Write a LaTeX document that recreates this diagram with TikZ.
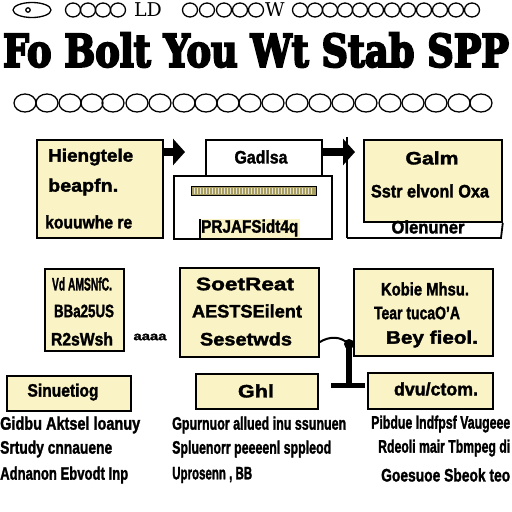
\documentclass[tikz,border=0pt]{standalone}
\usepackage{fontspec}
\setmainfont{Liberation Sans}[BoldFeatures={FakeBold=1.8}]
\newfontfamily\titlefont{DejaVu Serif}[BoldFeatures={FakeBold=5}]
\usetikzlibrary{arrows.meta}
\definecolor{boxyellow}{RGB}{250,243,198}
\definecolor{khaki}{RGB}{168,158,98}
\newcommand\wfit[2]{\resizebox{#1}{\height}{#2}}
\begin{document}
\begin{tikzpicture}[x=1pt,y=-1pt,
  ybox/.style={draw=black, line width=1.8pt, fill=boxyellow, inner sep=0pt, anchor=north west},
  wbox/.style={draw=black, line width=1.8pt, fill=white, inner sep=0pt, anchor=north west},
  tl/.style={font=\bfseries\fontsize{18}{19}\selectfont, inner sep=0pt, anchor=west},
  tc/.style={font=\bfseries\fontsize{18}{19}\selectfont, inner sep=0pt},
  ring/.style={draw=black, line width=1.3pt},
  bigarrow/.style={line width=8pt, -{Triangle[length=12pt,width=26pt]}}]
\useasboundingbox[fill=white] (0,0) rectangle (512,512);

% top ring row
\draw[ring] (32,10) ellipse (19 and 7.5);
\draw[ring] (28,10) circle (2.2);
\foreach \x in {73,88,103,118,190,207,224,240,256,300,315,330,345,360,376,392,408,424,440,456,472}
  \draw[ring] (\x,10) ellipse (7.5 and 7);
\node[font=\titlefont\fontsize{19}{19}\selectfont, inner sep=0pt] (ld) at (148,10) {LD};
\node[font=\titlefont\fontsize{19}{19}\selectfont, inner sep=0pt] (ww) at (275,10) {W};

% title
\node[inner sep=0pt] (title) at (256,50) {\resizebox{506pt}{34pt}{\titlefont\bfseries Fo Bolt You Wt Stab SPP}};

% bottom ring row
\foreach \x in {25,47,70,92,113,137,160,184,206,228,250,273,297,320,343,366,390,413,436,459,481}
  \draw[ring] (\x,103) ellipse (11 and 9);

% row 1
\node[ybox, minimum width=126pt, minimum height=98pt] (A) at (36,139) {};
\node[tl] (a1) at (48,157) {\wfit{85pt}{Hiengtele}};
\node[tl] (a2) at (48,187) {\wfit{70pt}{beapfn.}};
\node[tl] (a3) at (45,222) {\wfit{87pt}{kouuwhe re}};

\node[wbox, minimum width=158pt, minimum height=63pt] (C) at (173,175) {};
\node[wbox, minimum width=116pt, minimum height=36pt] (B) at (205,139) {};
\node[tc] (b1) at (261,157) {\wfit{53pt}{Gadlsa}};
\node[draw=black, line width=1pt, fill=khaki, minimum width=125pt, minimum height=9pt, inner sep=0pt, anchor=north west] (bar) at (191,186) {};
\foreach \x in {194,197,...,312}
  \draw[white!70!khaki, line width=1pt] (\x,188) -- (\x,194);
\node[fill=boxyellow, minimum width=100pt, minimum height=19pt, inner sep=0pt, anchor=north west] (cb) at (200,219) {};
\draw[line width=1.5pt] (cb.north west) -- (cb.south west);
\node[tl] (c1) at (201,228) {\wfit{97pt}{PRJAFSidt4q}};

\coordinate (aEnd) at (185,152);
\draw[bigarrow] (A.east |- aEnd) -- (aEnd);
\coordinate (vTop) at (347,137);
\coordinate (vBot) at (347,238);
\coordinate (bEnd) at (355,152);
\draw[line width=2pt] (vTop) -- (vBot);
\draw[bigarrow] (B.east |- bEnd) -- (bEnd);

\node[ybox, minimum width=138pt, minimum height=82pt] (D) at (363,139) {};
\coordinate (fBR) at (501,238);
\draw[line width=1.8pt] (vBot) -- (fBR) -- (D.south east);
\node[tc] (d1) at (432,158) {\wfit{53pt}{Galm}};
\node[tc] (d2) at (430,191) {\wfit{118pt}{Sstr elvonl Oxa}};
\node[tc] (d3) at (428,227) {\wfit{73pt}{Olenuner}};

% row 2
\node[ybox, minimum width=79pt, minimum height=82pt] (E) at (44,268) {};
\node[tc] (e1) at (82,284) {\wfit{60pt}{Vd AMSNfC.}};
\node[tc] (e2) at (84,311) {\wfit{60pt}{BBa25US}};
\node[tc] (e3) at (82,339) {\wfit{62pt}{R2sWsh}};
\node[tc, font=\bfseries\fontsize{12}{12}\selectfont] (dots) at (150,337) {\wfit{33pt}{aaaa}};

\node[ybox, minimum width=139pt, minimum height=89pt] (F) at (179,267) {};
\node[tc] (f1) at (245,284) {\wfit{98pt}{SoetReat}};
\node[tc] (f2) at (247,311) {\wfit{110pt}{AESTSEilent}};
\node[tc] (f3) at (246,339) {\wfit{92pt}{Sesetwds}};

\node[ybox, minimum width=139pt, minimum height=87pt] (G) at (353,268) {};
\node[tc] (g1) at (425,289) {\wfit{88pt}{Kobie Mhsu.}};
\node[tc] (g2) at (417,313) {\wfit{86pt}{Tear tucaO'A}};
\node[tc] (g3) at (432,339) {\wfit{92pt}{Bey fieol.}};

\coordinate (jn) at (349,344);
\coordinate (tee) at (349,385);
\coordinate (teeL) at (331,385);
\coordinate (teeR) at (365,385);
\draw[line width=2pt] (F.east |- 0,342) .. controls (330,336) and (340,336) .. (jn) -- (G.west |- jn);
\fill (jn) circle (5);
\draw[line width=6pt] (jn) -- (tee);
\draw[line width=5pt] (teeL) -- (teeR);

% row 3
\node[ybox, minimum width=124pt, minimum height=35pt] (H) at (6,375) {};
\node[tc] (h1) at (63,392) {\wfit{71pt}{Sinuetiog}};
\node[ybox, minimum width=122pt, minimum height=35pt] (I) at (195,373) {};
\node[tc] (i1) at (256,391) {\wfit{36pt}{Ghl}};
\node[ybox, minimum width=125pt, minimum height=36pt] (J) at (367,372) {};
\node[tc] (j1) at (436,389) {\wfit{84pt}{dvu/ctom.}};

\node[tl] (h2) at (0,425) {\wfit{140pt}{Gidbu Aktsel loanuy}};
\node[tl] (h3) at (0,449) {\wfit{112pt}{Srtudy cnnauene}};
\node[tl] (h4) at (0,475) {\wfit{128pt}{Adnanon Ebvodt Inp}};

\node[tl] (i2) at (172,425) {\wfit{174pt}{Gpurnuor allued inu ssunuen}};
\node[tl] (i3) at (172,449) {\wfit{159pt}{Spluenorr peeeenl sppleod}};
\node[tl] (i4) at (172,475) {\wfit{80pt}{Uprosenn , BB}};

\node[tl] (j2) at (371,424) {\wfit{139pt}{Pibdue lndfpsf Vaugeee}};
\node[tl] (j3) at (378,448) {\wfit{132pt}{Rdeoli mair Tbmpeg di}};
\node[tl] (j4) at (381,475) {\wfit{129pt}{Goesuoe Sbeok teo}};
\end{tikzpicture}
\end{document}
